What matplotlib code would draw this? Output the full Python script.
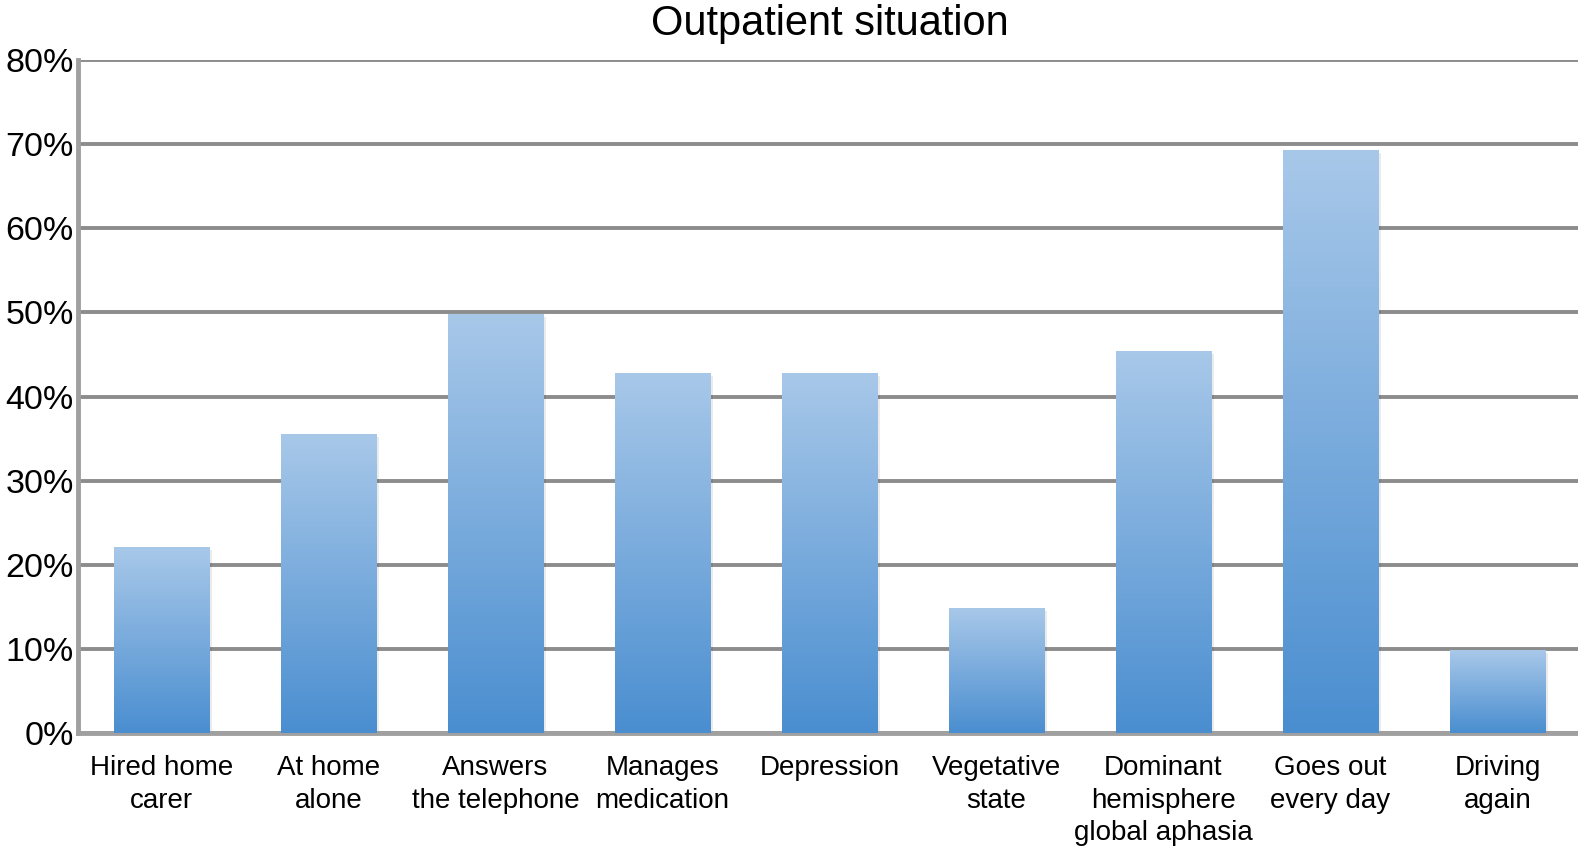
import matplotlib
matplotlib.use("Agg")
import matplotlib.pyplot as plt
import numpy as np
from matplotlib.colors import LinearSegmentedColormap

categories = ["Hired home\ncarer", "At home\nalone", "Answers\nthe telephone", "Manages\nmedication",
              "Depression", "Vegetative\nstate", "Dominant\nhemisphere\nglobal aphasia",
              "Goes out\nevery day", "Driving\nagain"]
values = [22.0, 35.5, 49.8, 42.7, 42.7, 14.8, 45.3, 69.2, 9.8]
yticks = [0, 10, 20, 30, 40, 50, 60, 70, 80]

plt.rcParams["font.family"] = ["Liberation Sans", "DejaVu Sans"]

fig = plt.figure(figsize=(15.78, 8.48), dpi=100)
ax = fig.add_axes([0.0494, 0.1356, 0.9525, 0.7936])

x = np.arange(len(categories))
bars = ax.bar(x, values, width=0.57, color="none", edgecolor="none", zorder=3)

cmap = LinearSegmentedColormap.from_list("blu", ["#4A8ED0", "#A8C8E9"])
grad = np.linspace(0, 1, 256).reshape(-1, 1)
for b in bars:
    x0, w, h = b.get_x(), b.get_width(), b.get_height()
    # soft shadow
    ax.bar(x0 + w / 2 + 0.01, h, width=w + 0.02, bottom=-0.3, color="#000000", alpha=0.08, zorder=2)
    ax.imshow(grad, extent=[x0, x0 + w, 0, h], origin="lower", cmap=cmap,
              aspect="auto", zorder=4, interpolation="bicubic")

ax.set_xlim(-0.5, len(categories) - 0.5)
ax.set_ylim(0, 80)
ax.set_yticks(yticks)
ax.set_yticklabels([f"{t}%" for t in yticks], fontsize=24.5)
ax.set_xticks(x)
ax.set_xticklabels(categories, fontsize=20, linespacing=1.32, va="top")
ax.tick_params(length=0, pad=3)
ax.tick_params(axis="x", pad=16)

ax.yaxis.grid(True, color="#8c8c8c", lw=2.8, zorder=1)
ax.set_axisbelow(True)
for s in ["top", "right"]:
    ax.spines[s].set_visible(False)
for s in ["left", "bottom"]:
    ax.spines[s].set_color("#a0a0a0")
    ax.spines[s].set_linewidth(3.5)

ax.set_title("Outpatient situation", fontsize=30, pad=18)

fig.savefig("out.png", dpi=100)
